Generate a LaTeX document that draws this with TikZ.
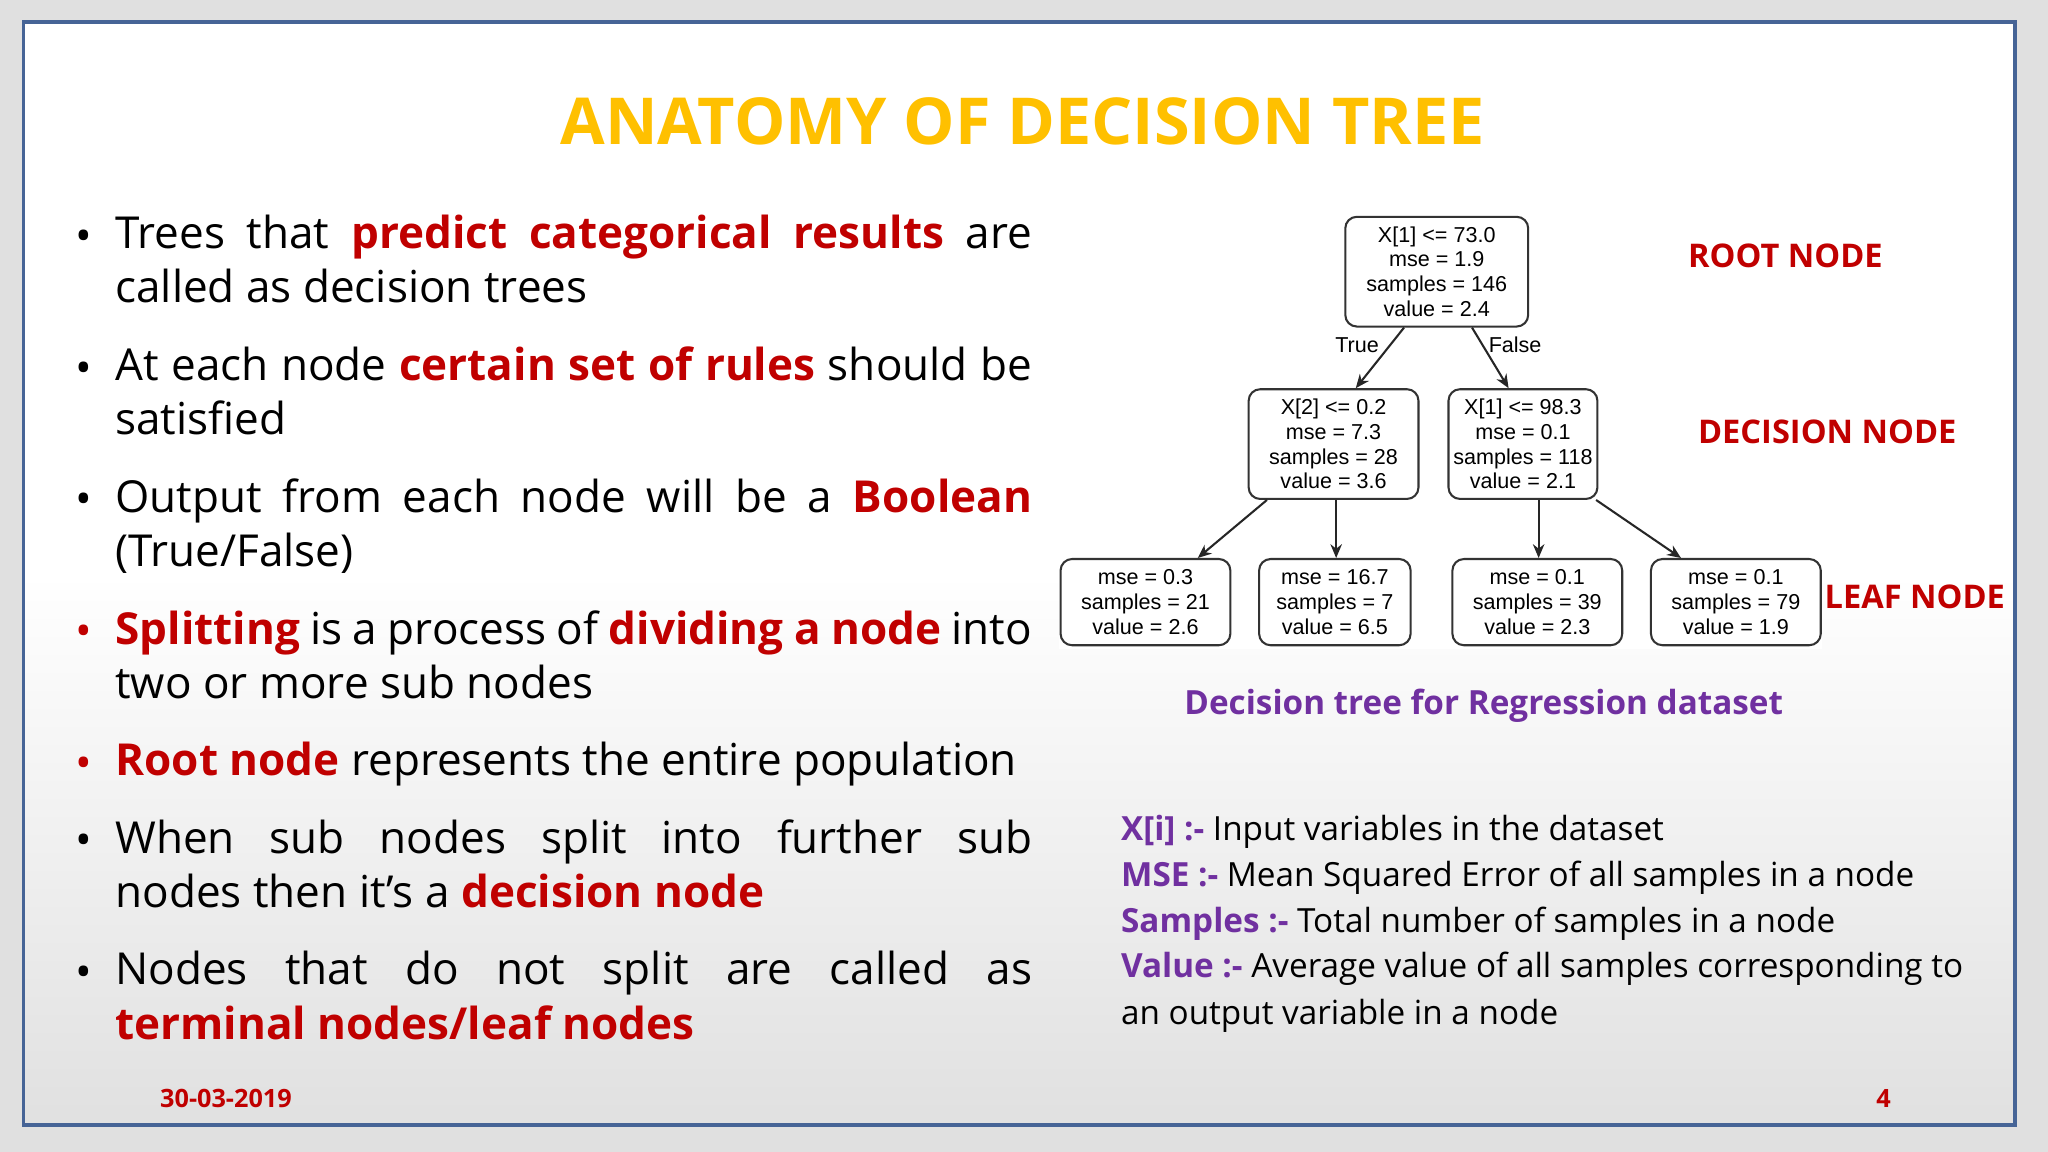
\documentclass[tikz,border=0pt]{standalone}
\usepackage{fontspec}
\setmainfont{Open Sans}
\newfontfamily\arialf{Liberation Sans}
\usetikzlibrary{arrows.meta}
\definecolor{myred}{RGB}{192,0,0}
\definecolor{mygold}{RGB}{255,192,0}
\definecolor{mypurple}{RGB}{112,48,160}
\definecolor{frameblue}{RGB}{70,100,150}
\newcommand{\rd}[1]{\textcolor{myred}{\textbf{#1}}}
\newcommand{\pu}[1]{\textcolor{mypurple}{\textbf{#1}}}
\begin{document}
\begin{tikzpicture}[x=0.02cm,y=-0.02cm,
  para/.style={anchor=north west,inner sep=0pt,text width=14.04cm,align=justify,font=\fontsize{19.2}{23.8}\selectfont},
  bul/.style={anchor=center,inner sep=0pt,font=\fontsize{19.3}{23.8}\selectfont},
  tbox/.style={draw=black!80,line width=0.9pt,rounded corners=5pt,fill=white,align=center,inner sep=0pt,font=\arialf\fontsize{9.4}{10.8}\selectfont},
  tarr/.style={-{Stealth[length=6pt,width=5pt]},line width=0.9pt,black!85},
  lab/.style={font=\bfseries\fontsize{14.2}{16}\selectfont,text=myred},
  leg/.style={anchor=west,inner sep=0pt,font=\fontsize{14.5}{17}\selectfont}]
\useasboundingbox (0,0) rectangle (1568,882);
\fill[black!12] (0,0) rectangle (1568,882);
\shade[top color=white,bottom color=black!12,middle color=white] (18,17) rectangle (1543,861);
\draw[frameblue,line width=1.7pt] (18,17) rectangle (1543,861);
\node[font=\bfseries\fontsize{28.2}{30}\selectfont,text=mygold] (title) at (783,93) {ANATOMY OF DECISION TREE};
% bullets
\foreach \y/\c in {184/black,285/black,386/black,487/myred,588/myred,647/black,748/black}
  \node[bul,text=\c] at (64,\y) {•};
\node[para] (p1) at (88,164) {Trees that \rd{predict categorical results} are\linebreak called as decision trees};
\node[para] (p2) at (88,265) {At each node \rd{certain set of rules} should be\linebreak satisfied};
\node[para] (p3) at (88,366) {Output from each node will be a \rd{Boolean}\linebreak (True/False)};
\node[para] (p4) at (88,467) {\rd{Splitting} is a process of \rd{dividing a node} into\linebreak two or more sub nodes};
\node[para] (p5) at (88,568) {\rd{Root node} represents the entire population};
\node[para] (p6) at (88,627) {When sub nodes split into further sub\linebreak nodes then it’s a \rd{decision node}};
\node[para] (p7) at (88,728) {Nodes that do not split are called as\linebreak \rd{terminal nodes/leaf nodes}};
% tree
\fill[white] (811,160) rectangle (1395,497);
\node[tbox,minimum width=140*0.02cm,minimum height=84*0.02cm] (r) at (1100,208) {X[1] <= 73.0\\mse = 1.9\\samples = 146\\value = 2.4};
\node[tbox,minimum width=130*0.02cm,minimum height=84*0.02cm] (d1) at (1021,340) {X[2] <= 0.2\\mse = 7.3\\samples = 28\\value = 3.6};
\node[tbox,minimum width=114*0.02cm,minimum height=84*0.02cm] (d2) at (1166,340) {X[1] <= 98.3\\mse = 0.1\\samples = 118\\value = 2.1};
\node[tbox,minimum width=130*0.02cm,minimum height=66*0.02cm] (l1) at (877,461) {mse = 0.3\\samples = 21\\value = 2.6};
\node[tbox,minimum width=116*0.02cm,minimum height=66*0.02cm] (l2) at (1022,461) {mse = 16.7\\samples = 7\\value = 6.5};
\node[tbox,minimum width=130*0.02cm,minimum height=66*0.02cm] (l3) at (1177,461) {mse = 0.1\\samples = 39\\value = 2.3};
\node[tbox,minimum width=130*0.02cm,minimum height=66*0.02cm] (l4) at (1329,461) {mse = 0.1\\samples = 79\\value = 1.9};
\draw[tarr] (r.south -| 1075,0) -- (d1.north -| 1038,0);
\draw[tarr] (r.south -| 1127,0) -- (d2.north -| 1155,0);
\draw[tarr] (d1.south -| 970,0) -- (l1.north -| 917,0);
\draw[tarr] (d1.south -| 1023,0) -- (l2.north -| 1023,0);
\draw[tarr] (d2.south -| 1178,0) -- (l3.north -| 1178,0);
\draw[tarr] (d2.south -| 1222,0) -- (l4.north -| 1287,0);
\node[font=\arialf\fontsize{9.4}{10}\selectfont] (tt) at (1039,264) {True};
\node[font=\arialf\fontsize{9.4}{10}\selectfont] (ff) at (1160,264) {False};
\node[lab] (rn) at (1367,196) {ROOT NODE};
\node[lab] (dn) at (1399,331) {DECISION NODE};
\node[lab] (ln) at (1466,457) {LEAF NODE};
\node[font=\bfseries\fontsize{14.5}{16}\selectfont,text=mypurple] (cap) at (1136,540) {Decision tree for Regression dataset};
% legend
\node[leg] (g1) at (858,637) {\pu{X[i] :-} Input variables in the dataset};
\node[leg] (g2) at (858,672) {\pu{MSE :-} Mean Squared Error of all samples in a node};
\node[leg] (g3) at (858,707) {\pu{Samples :-} Total number of samples in a node};
\node[leg] (g4) at (858,742) {\pu{Value :-} Average value of all samples corresponding to};
\node[leg] (g5) at (858,778) {an output variable in a node};
\node[font=\bfseries\fontsize{11}{12}\selectfont,text=myred] (date) at (173,841) {30-03-2019};
\node[font=\bfseries\fontsize{11}{12}\selectfont,text=myred] (pg) at (1442,841) {4};
\end{tikzpicture}
\end{document}
